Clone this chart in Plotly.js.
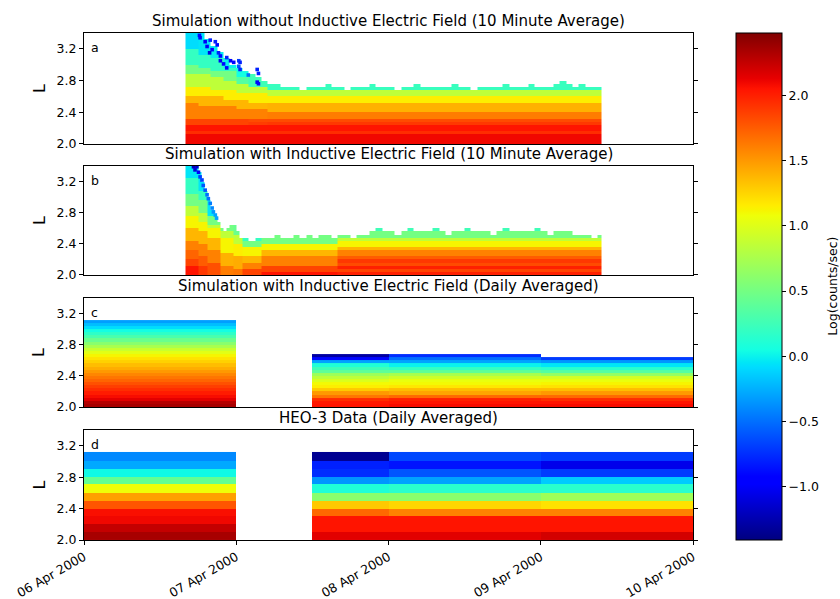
<!DOCTYPE html>
<html><head><meta charset="utf-8">
<script src="https://cdn.plot.ly/plotly-3.0.1.min.js"></script>
<style>html,body{margin:0;padding:0;background:#fff;}#chart{width:840px;height:599px;}</style>
</head><body><div id="chart"></div>
<script>
// ---------- value range of the colour scale ----------
const zMin = -1.41, zMax = 2.48;

// ---------- simulation L grid (row edges 2.00 ... 3.40, step 0.04) ----------
const simLMin = 2.0, simLStep = 0.04, simRowCount = 35;

// ---------- Panel a: simulation without inductive E field (10-min) ----------
const aStartHour = 16, aLastHour = 81, aEndHour = 81.5;
const aTop = [3.40,3.40,3.40,3.32,3.24,3.16,3.08,3.00,2.96,2.92,2.88,2.84,2.80,2.76,2.76,2.72,
  2.72,2.72,2.68,2.72,2.72,2.72,2.76,2.72,2.72,2.68,
  2.72,2.72,2.72,2.76,2.72,2.72,2.72,2.68,2.72,2.72,
  2.76,2.72,2.72,2.72,2.72,2.72,2.76,2.72,2.72,2.68,
  2.72,2.72,2.72,2.72,2.76,2.72,2.72,2.72,2.76,2.72,
  2.72,2.72,2.76,2.80,2.76,2.72,2.76,2.72,2.72,2.72];
const aProfRuns = [[0,2],[1,2],[2,2],[3,2],[4,2],[5,3],[6,53]];
const aProfiles = [
  [[2.12,2.1],[2.16,1.95],[2.24,2.05],[2.34,1.85],[2.51,1.6],[2.62,1.38],[2.74,1.15],[2.89,0.85],[3.02,0.5],[3.19,0.2],[3.41,-0.08]],
  [[2.12,2.1],[2.16,1.95],[2.24,2.05],[2.34,1.85],[2.50,1.6],[2.61,1.38],[2.72,1.15],[2.87,0.85],[2.98,0.5],[3.14,0.2],[3.41,-0.05]],
  [[2.12,2.1],[2.16,1.95],[2.24,2.05],[2.34,1.85],[2.49,1.6],[2.60,1.38],[2.70,1.15],[2.84,0.85],[2.94,0.5],[3.08,0.2],[3.41,-0.02]],
  [[2.12,2.1],[2.16,1.95],[2.24,2.05],[2.33,1.85],[2.47,1.6],[2.57,1.38],[2.68,1.15],[2.80,0.85],[2.91,0.5],[2.97,0.2],[3.41,0.0]],
  [[2.12,2.1],[2.16,1.95],[2.24,2.05],[2.34,1.85],[2.46,1.6],[2.56,1.38],[2.66,1.15],[2.76,0.85],[2.84,0.35],[3.41,0.05]],
  [[2.12,2.1],[2.16,1.95],[2.24,2.05],[2.30,1.88],[2.34,1.82],[2.44,1.6],[2.54,1.38],[2.63,1.15],[2.71,0.85],[3.41,0.25]],
  [[2.12,2.1],[2.16,1.95],[2.24,2.05],[2.28,1.9],[2.33,1.82],[2.42,1.62],[2.52,1.4],[2.61,1.15],[2.68,0.85],[3.41,0.22]]
];
const aDotHour = [18.2,18.3,19.1,19.9,20.7,21.0,19.4,20.2,19.8,21.2,21.5,22.5,23.1,23.6,24.4,24.6,21.5,22.0,22.5,24.4,24.6,25.9,27.3,27.5,27.3,27.5];
const aDotL    = [3.37,3.34,3.29,3.31,3.29,3.25,3.23,3.19,3.15,3.15,3.11,3.09,3.05,3.03,3.05,3.03,3.05,3.01,2.96,2.98,2.94,2.87,2.94,2.89,2.78,2.76];
const aDotVal  = [-0.9,-0.9,-1.0,-0.8,-0.8,-0.9,-1.0,-0.9,-1.1,-0.8,-0.9,-0.8,-1.0,-0.9,-0.7,-0.8,-1.0,-0.9,-0.9,-0.6,-0.8,-0.5,-0.8,-0.8,-1.0,-0.9];

// ---------- Panel b: simulation with inductive E field (10-min) ----------
const bTransitionHours = [16,17,18,18.5,19,19.5,20,20.5,21,21.5,22,22.5,23,23.5,24,24.5];
const bHourlyStart = 25, bLastHour = 81, bEndHour = 81.5;
const bTop = [3.40,3.40,3.32,3.20,3.08,2.96,2.84,2.76,2.68,2.60,2.56,2.60,2.64,2.64,2.56,2.48,
  2.48,2.44,2.48,
  2.48,2.48,2.52,2.48,2.48,2.52,2.48,2.52,2.48,2.52,2.52,2.48,2.52,2.52,2.48,2.52,2.52,
  2.56,2.60,2.56,2.56,2.52,2.56,2.60,2.56,2.56,2.56,2.60,2.56,2.52,2.56,2.56,2.60,
  2.56,2.56,2.56,2.52,2.56,2.60,2.56,2.56,2.56,2.56,2.60,2.56,2.52,2.56,2.56,2.56,
  2.52,2.52,2.52,2.48,2.52];
const bProfRuns = [[0,2],[1,3],[2,4],[3,4],[4,3],[5,3],[6,12],[7,42]];
const bProfiles = [
  [[2.11,2.05],[2.19,1.85],[2.34,1.72],[2.45,1.6],[2.60,1.38],[2.75,1.12],[2.88,0.85],[3.05,0.5],[3.24,0.2],[3.41,-0.05]],
  [[2.13,1.9],[2.25,1.75],[2.40,1.6],[2.55,1.38],[2.70,1.12],[2.82,0.85],[2.95,0.5],[3.08,0.2],[3.41,-0.05]],
  [[2.17,1.8],[2.34,1.6],[2.47,1.38],[2.60,1.12],[2.66,0.85],[2.75,0.5],[3.41,-0.05]],
  [[2.13,1.62],[2.30,1.4],[2.47,1.12],[2.56,0.85],[3.41,0.5]],
  [[2.10,1.65],[2.24,1.42],[2.42,1.15],[2.52,0.85],[3.41,0.45]],
  [[2.08,1.85],[2.17,1.6],[2.26,1.38],[2.38,1.12],[2.43,0.5],[3.41,0.2]],
  [[2.06,2.05],[2.13,1.85],[2.24,1.6],[2.32,1.38],[2.41,1.12],[3.41,0.5]],
  [[2.04,2.0],[2.08,1.85],[2.12,2.0],[2.16,1.82],[2.20,1.9],[2.24,1.75],[2.32,1.6],[2.38,1.38],[2.44,1.12],[2.48,0.85],[2.56,0.5],[3.41,0.25]]
];
const bDotHour = [17.26,17.79,17.5,18.05,18.3,18.6,18.8,19.1,19.4,19.6,19.9,20.2,20.4,20.7,20.9];
const bDotL    = [3.39,3.39,3.35,3.32,3.26,3.22,3.15,3.09,3.03,2.98,2.92,2.86,2.81,2.77,2.73];
const bDotVal  = [-1.2,-1.15,-1.1,-1.0,-0.7,-0.7,-0.6,-0.6,-0.5,-0.5,-0.45,-0.4,-0.35,-0.3,-0.3];

// ---------- Panel c: simulation with inductive E field (daily) ----------
const cHours = [0,24,36,48,72,96];
const cDay06  = [2.35,2.3,2.15,2.08,2.02,1.95,1.88,1.8,1.72,1.65,1.58,1.5,1.42,1.35,1.27,1.2,1.12,1.02,0.9,0.75,0.6,0.45,0.3,0.17,0.05,-0.08,-0.2,-0.32];
const cGap07  = [];
const cHalf07 = [2.05,2.03,1.95,1.65,1.5,1.3,1.15,1.1,0.98,0.85,0.7,0.4,0.25,0.1,-0.3,-0.9,-1.3];
const cDay08  = [2.08,2.05,2.0,1.7,1.45,1.35,1.18,1.1,1.05,0.92,0.75,0.4,0.2,0.0,-0.3,-0.5,-0.75];
const cDay09  = [2.08,2.05,1.95,1.7,1.5,1.35,1.2,1.12,1.05,0.95,0.65,0.35,0.15,-0.05,-0.35,-0.7];

// ---------- Panel d: HEO-3 data (daily) ----------
const dHours = [0,24,36,48,72,96];
const dLEdges = [2.0,2.1,2.2,2.3,2.4,2.5,2.6,2.71,2.8,2.9,3.0,3.12];
const dDay06  = [2.35,2.25,2.1,2.07,1.78,1.47,1.08,0.42,0.03,-0.28,-0.4];
const dGap07  = [];
const dHalf07 = [2.15,2.05,2.05,1.7,1.3,0.6,0.1,-0.35,-0.75,-0.8,-1.35];
const dDay08  = [2.15,2.05,2.05,1.6,1.25,0.6,0.15,-0.3,-0.6,-0.85,-0.65];
const dDay09  = [2.2,2.05,2.05,1.6,1.2,0.7,0.15,-0.15,-0.7,-1.05,-0.7];

// ---------- text ----------
const panelTitles = [
  'Simulation without Inductive Electric Field (10 Minute Average)',
  'Simulation with Inductive Electric Field (10 Minute Average)',
  'Simulation with Inductive Electric Field (Daily Averaged)',
  'HEO-3 Data (Daily Averaged)'];
const panelLetters = ['a','b','c','d'];
const yTicks = [2.0,2.4,2.8,3.2];
const cbTicks = [-1.0,-0.5,0.0,0.5,1.0,1.5,2.0];
const cbTitle = 'Log(counts/sec)';

// ---------- helpers ----------
const epoch = Date.UTC(2000,3,6);
function hourToDate(h){ return new Date(epoch + Math.round(h*3600000)).toISOString().slice(0,19).replace('T',' '); }
const rowEdges = [], rowCenters = [];
for (let k=0;k<=simRowCount;k++) rowEdges.push(+(simLMin + k*simLStep).toFixed(3));
for (let k=0;k<simRowCount;k++) rowCenters.push(+(simLMin + (k+0.5)*simLStep).toFixed(3));
function bandValue(bands, L){ for (const b of bands) if (L < b[0]) return b[1]; return null; }
function expandRuns(runs){ const out=[]; runs.forEach(r=>{ for(let i=0;i<r[1];i++) out.push(r[0]); }); return out; }
function buildSim(hours, tops, runs, profiles){
  const prof = expandRuns(runs);
  const z = rowCenters.map(L => tops.map((t,j) => L < t - 1e-6 ? bandValue(profiles[prof[j]], L) : null));
  return {x: hours.map(hourToDate), y: rowEdges, z: z};
}
function buildCols(hours, yEdges, cols){
  const n = yEdges.length - 1, z = [];
  for (let i=0;i<n;i++) z.push(cols.map(c => (c[i] === undefined ? null : c[i])));
  return {x: hours.map(hourToDate), y: yEdges, z: z};
}

const aHours = []; for (let h=aStartHour; h<=aLastHour; h++) aHours.push(h); aHours.push(aEndHour);
const bHours = bTransitionHours.slice(); for (let h=bHourlyStart; h<=bLastHour; h++) bHours.push(h); bHours.push(bEndHour);

const A = buildSim(aHours, aTop, aProfRuns, aProfiles);
const B = buildSim(bHours, bTop, bProfRuns, bProfiles);
const C = buildCols(cHours, rowEdges, [cDay06, cGap07, cHalf07, cDay08, cDay09]);
const D = buildCols(dHours, dLEdges, [dDay06, dGap07, dHalf07, dDay08, dDay09]);

function hm(d, ax){ return {type:'heatmap', x:d.x, y:d.y, z:d.z, coloraxis:'coloraxis', xaxis:'x'+ax, yaxis:'y'+ax, zsmooth:false, hoverinfo:'skip'}; }
function dots(h, L, v, ax){ return {type:'scatter', mode:'markers', x:h.map(hourToDate), y:L, xaxis:'x'+ax, yaxis:'y'+ax,
  marker:{symbol:'square', size:3.6, color:v, coloraxis:'coloraxis', line:{width:0}}, hoverinfo:'skip', showlegend:false}; }

const data = [hm(A,''), hm(B,'2'), hm(C,'3'), hm(D,'4'),
  dots(aDotHour, aDotL, aDotVal, ''), dots(bDotHour, bDotL, bDotVal, '2')];

// ---------- layout ----------
const font = {family:'DejaVu Sans', size:12.5, color:'#000'};
const domains = [[0.7811,1],[0.5227,0.7377],[0.2623,0.4773],[0,0.2170]];
const xRange = ['2000-04-06 00:00:00','2000-04-10 00:00:00'];
const layout = {
  width:840, height:599, paper_bgcolor:'#fff', plot_bgcolor:'#fff', font:font, showlegend:false,
  margin:{l:84, r:147, t:33, b:59},
  coloraxis:{colorscale:[[0,'rgb(0,0,128)'],[0.11,'rgb(0,0,255)'],[0.125,'rgb(0,0,255)'],[0.34,'rgb(0,219,255)'],[0.35,'rgb(0,230,247)'],
    [0.375,'rgb(20,255,226)'],[0.64,'rgb(239,255,8)'],[0.65,'rgb(247,245,0)'],[0.66,'rgb(255,236,0)'],[0.89,'rgb(255,19,0)'],[0.91,'rgb(232,0,0)'],[1,'rgb(128,0,0)']],
    cmin:zMin, cmax:zMax,
    colorbar:{x:1.0705, xanchor:'left', xpad:0, thickness:46, len:1, lenmode:'fraction', y:0.5, yanchor:'middle', ypad:0,
      outlinewidth:1, outlinecolor:'#000', ticks:'outside', ticklen:4, tickcolor:'#000', tickvals:cbTicks, tickformat:'.1f',
      tickfont:{family:'DejaVu Sans', size:12.5, color:'#000'}, title:{text:''}}},
  annotations:[{text:cbTitle, xref:'paper', yref:'paper', x:1.2285, y:0.5, xanchor:'center', yanchor:'middle', textangle:-90,
    showarrow:false, font:{family:'DejaVu Sans', size:12.5, color:'#000'}}]
};
['','2','3','4'].forEach((ax,i)=>{
  const last = i===3;
  layout['xaxis'+ax] = {domain:[0,1], anchor:'y'+ax, type:'date', range:xRange, showgrid:false, zeroline:false,
    showline:true, mirror:true, linecolor:'#000', linewidth:1,
    showticklabels:last, ticks:last?'outside':'', ticklen:4, tickcolor:'#000',
    dtick:86400000, tick0:'2000-04-06', tickformat:'%d %b %Y', tickangle:-30,
    tickfont:{family:'DejaVu Sans', size:12.5, color:'#000'}};
  layout['yaxis'+ax] = {domain:domains[i], anchor:'x'+ax, range:[2.0,3.4], showgrid:false, zeroline:false,
    showline:true, mirror:'ticks', linecolor:'#000', linewidth:1, ticks:'outside', ticklen:4, tickcolor:'#000',
    tickvals:yTicks, tickformat:'.1f', tickfont:{family:'DejaVu Sans', size:12.5, color:'#000'},
    title:{text:'L', font:{family:'DejaVu Sans', size:16, color:'#000'}, standoff:7}};
  layout.annotations.push({text:panelTitles[i], xref:'paper', yref:'paper', x:0.5, y:domains[i][1], xanchor:'center', yanchor:'bottom',
    yshift:1, showarrow:false, font:{family:'DejaVu Sans', size:15, color:'#000'}});
  layout.annotations.push({text:panelLetters[i], xref:'x'+ax+' domain', yref:'y'+ax+' domain', x:0.008, y:1, xanchor:'left', yanchor:'top',
    yshift:-5, showarrow:false, font:{family:'DejaVu Sans', size:12.5, color:'#000'}});
});

Plotly.newPlot('chart', data, layout, {displayModeBar:false, staticPlot:true});
</script>
</body></html>
